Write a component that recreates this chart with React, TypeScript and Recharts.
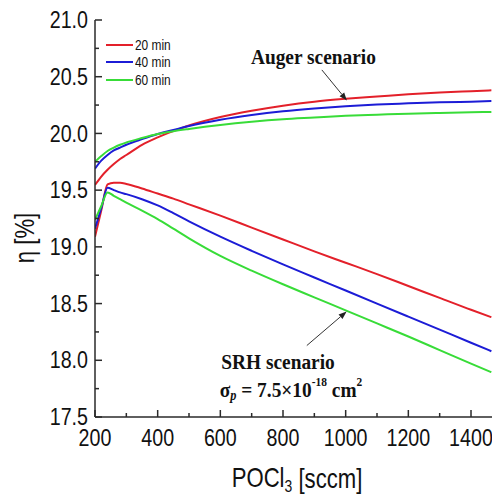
import React from "react";
import {
  LineChart, Line, XAxis, YAxis, Legend, ReferenceLine, ReferenceDot,
} from "recharts";

const X_VALUES = [200, 220, 240, 260, 280, 300, 350, 400, 450, 500, 600, 700, 800, 900, 1000, 1100, 1200, 1300, 1400, 1465];

// Auger scenario (upper curves)
const AUGER_20 = [19.545, 19.62, 19.68, 19.73, 19.775, 19.81, 19.9, 19.965, 20.02, 20.07, 20.145, 20.2, 20.245, 20.28, 20.305, 20.325, 20.345, 20.36, 20.372, 20.38];
const AUGER_40 = [19.69, 19.76, 19.81, 19.85, 19.875, 19.9, 19.95, 19.995, 20.03, 20.065, 20.12, 20.162, 20.195, 20.22, 20.24, 20.255, 20.265, 20.274, 20.28, 20.285];
const AUGER_60 = [19.75, 19.8, 19.845, 19.875, 19.9, 19.92, 19.96, 19.995, 20.02, 20.04, 20.075, 20.103, 20.125, 20.14, 20.155, 20.165, 20.174, 20.18, 20.186, 20.19];

// SRH scenario (lower curves)
const SRH_20 = [19.09, 19.32, 19.55, 19.565, 19.565, 19.555, 19.515, 19.47, 19.425, 19.375, 19.275, 19.17, 19.065, 18.96, 18.86, 18.76, 18.655, 18.55, 18.445, 18.38];
const SRH_40 = [19.16, 19.34, 19.52, 19.5, 19.48, 19.465, 19.42, 19.365, 19.297, 19.225, 19.09, 18.965, 18.845, 18.73, 18.615, 18.5, 18.385, 18.27, 18.155, 18.08];
const SRH_60 = [19.24, 19.36, 19.48, 19.45, 19.42, 19.39, 19.32, 19.245, 19.16, 19.075, 18.92, 18.79, 18.67, 18.555, 18.44, 18.325, 18.21, 18.09, 17.97, 17.895];

const SERIES_NAMES = ["20 min", "40 min", "60 min"];
const X_TICKS = [200, 300, 400, 500, 600, 700, 800, 900, 1000, 1100, 1200, 1300, 1400];
const Y_TICKS = [17.5, 17.75, 18, 18.25, 18.5, 18.75, 19, 19.25, 19.5, 19.75, 20, 20.25, 20.5, 20.75, 21];

const RED = "#e3202a";
const BLUE = "#1c1cd6";
const GREEN = "#38dc38";
const COLORS = [RED, BLUE, GREEN];
const AXIS = "#2a2a2a";
const SANS = "'Liberation Sans', Arial, sans-serif";
const SERIF = "'Liberation Serif', 'Times New Roman', serif";
const SQUEEZE = 0.82;

const data = X_VALUES.map((x, i) => ({
  x,
  a20: AUGER_20[i], a40: AUGER_40[i], a60: AUGER_60[i],
  s20: SRH_20[i], s40: SRH_40[i], s60: SRH_60[i],
}));

// narrow sans text (the original uses a condensed face)
function Narrow({ x, y, anchor = "middle", size, children, rotate = 0 }: any) {
  return (
    <text
      transform={`translate(${x},${y}) rotate(${rotate}) scale(${SQUEEZE},1)`}
      textAnchor={anchor} dominantBaseline="central"
      fontFamily={SANS} fontSize={size} fill="#111"
    >
      {children}
    </text>
  );
}

function BottomTick({ x, y, payload }: any) {
  const major = payload.value % 200 === 0;
  return (
    <g>
      <line x1={x} y1={y} x2={x} y2={y - (major ? 7 : 4)} stroke={AXIS} strokeWidth={1.5} />
      {major && <Narrow x={x} y={y + 21} size={24}>{payload.value}</Narrow>}
    </g>
  );
}

function TopTick({ x, y, payload }: any) {
  const major = payload.value % 200 === 0;
  return <line x1={x} y1={y} x2={x} y2={y + (major ? 7 : 4)} stroke={AXIS} strokeWidth={1.5} />;
}

function LeftTick({ x, y, payload }: any) {
  const major = Math.abs(payload.value * 2 - Math.round(payload.value * 2)) < 1e-6;
  return (
    <g>
      <line x1={x} y1={y} x2={x + (major ? 7 : 4)} y2={y} stroke={AXIS} strokeWidth={1.5} />
      {major && <Narrow x={x - 7} y={y} anchor="end" size={24}>{payload.value.toFixed(1)}</Narrow>}
    </g>
  );
}

function Arrow(props: any) {
  const { x1, y1, x2, y2 } = props;
  const a = Math.atan2(y2 - y1, x2 - x1);
  const L = 8, W = 3;
  const bx = x2 - L * Math.cos(a), by = y2 - L * Math.sin(a);
  const p1 = `${bx - W * Math.sin(a)},${by + W * Math.cos(a)}`;
  const p2 = `${bx + W * Math.sin(a)},${by - W * Math.cos(a)}`;
  return (
    <g>
      <line x1={x1} y1={y1} x2={bx} y2={by} stroke="#333" strokeWidth={1} />
      <polygon points={`${x2},${y2} ${p1} ${p2}`} fill="#222" />
    </g>
  );
}

function SerifLabel({ cx, cy, anchor = "start", children }: any) {
  return (
    <text
      transform={`translate(${cx},${cy}) scale(0.88,1)`}
      textAnchor={anchor} dominantBaseline="central"
      fontFamily={SERIF} fontWeight="bold" fontSize={22} fill="#111"
    >
      {children}
    </text>
  );
}

function LegendBox() {
  return (
    <div style={{ fontFamily: SANS, fontSize: 14, color: "#111" }}>
      {SERIES_NAMES.map((n, i) => (
        <div key={n} style={{ display: "flex", alignItems: "center", height: 17.5 }}>
          <svg width={27} height={4} style={{ marginRight: 2 }}>
            <line x1={0} y1={2} x2={27} y2={2} stroke={COLORS[i]} strokeWidth={2} />
          </svg>
          <span style={{ display: "inline-block", transform: "scaleX(0.85)", transformOrigin: "left center" }}>{n}</span>
        </div>
      ))}
    </div>
  );
}

export default function App() {
  return (
    <div style={{ position: "absolute", left: 0, top: 0, width: 492, height: 496, background: "#fff" }}>
      <LineChart width={492} height={496} data={data} margin={{ top: 20, right: 0, bottom: 19, left: 15 }}>
        <XAxis
          dataKey="x" type="number" domain={[200, 1467]} allowDataOverflow
          ticks={X_TICKS} interval={0} tickSize={0} tickMargin={0} height={60}
          axisLine={{ stroke: AXIS, strokeWidth: 1.5 }} tickLine={false} tick={<BottomTick />}
          label={{
            content: () => (
              <Narrow x={297} y={478} size={27}>
                POCl<tspan fontSize={17} dy={7}>3</tspan><tspan dy={-7}> [sccm]</tspan>
              </Narrow>
            ),
          }}
        />
        <XAxis
          xAxisId="top" orientation="top" dataKey="x" type="number" domain={[200, 1467]} allowDataOverflow
          ticks={X_TICKS} interval={0} tickSize={0} tickMargin={0} height={0}
          axisLine={{ stroke: AXIS, strokeWidth: 1.5 }} tickLine={false} tick={<TopTick />}
        />
        <YAxis
          type="number" domain={[17.5, 21]} allowDataOverflow
          ticks={Y_TICKS} interval={0} tickSize={0} tickMargin={0} width={80}
          axisLine={{ stroke: AXIS, strokeWidth: 1.5 }} tickLine={false} tick={<LeftTick />}
          label={{
            content: () => <Narrow x={25} y={238} size={27} rotate={-90}>η [%]</Narrow>,
          }}
        />
        <Legend
          layout="vertical" align="center" verticalAlign="middle"
          wrapperStyle={{ position: "absolute", left: 106, top: 36, width: 80, height: 55 }}
          content={() => <LegendBox />}
        />
        <Line type="monotone" dataKey="a20" name="20 min" stroke={RED} strokeWidth={2} dot={false} isAnimationActive={false} />
        <Line type="monotone" dataKey="a40" name="40 min" stroke={BLUE} strokeWidth={2} dot={false} isAnimationActive={false} />
        <Line type="monotone" dataKey="a60" name="60 min" stroke={GREEN} strokeWidth={2} dot={false} isAnimationActive={false} />
        <Line type="monotone" dataKey="s20" stroke={RED} strokeWidth={2} dot={false} isAnimationActive={false} legendType="none" />
        <Line type="monotone" dataKey="s40" stroke={BLUE} strokeWidth={2} dot={false} isAnimationActive={false} legendType="none" />
        <Line type="monotone" dataKey="s60" stroke={GREEN} strokeWidth={2} dot={false} isAnimationActive={false} legendType="none" />

        <ReferenceLine segment={[{ x: 924, y: 20.56 }, { x: 1004, y: 20.29 }]} shape={<Arrow />} />
        <ReferenceLine segment={[{ x: 876, y: 18.13 }, { x: 1003, y: 18.43 }]} shape={<Arrow />} />

        <ReferenceDot x={897} y={20.674} r={0}
          shape={(p: any) => <SerifLabel cx={p.cx} cy={p.cy} anchor="middle">Auger scenario</SerifLabel>}
        />
        <ReferenceDot x={603} y={17.99} r={0}
          shape={(p: any) => <SerifLabel cx={p.cx} cy={p.cy}>SRH scenario</SerifLabel>}
        />
        <ReferenceDot x={598} y={17.745} r={0}
          shape={(p: any) => (
            <SerifLabel cx={p.cx} cy={p.cy}>
              σ<tspan fontSize={14} fontStyle="italic" dy={5}>p</tspan>
              <tspan dy={-5}> = 7.5×10</tspan>
              <tspan fontSize={13} dy={-7}>-18</tspan>
              <tspan dy={7}> cm</tspan>
              <tspan fontSize={13} dy={-7}>2</tspan>
            </SerifLabel>
          )}
        />
      </LineChart>
    </div>
  );
}
